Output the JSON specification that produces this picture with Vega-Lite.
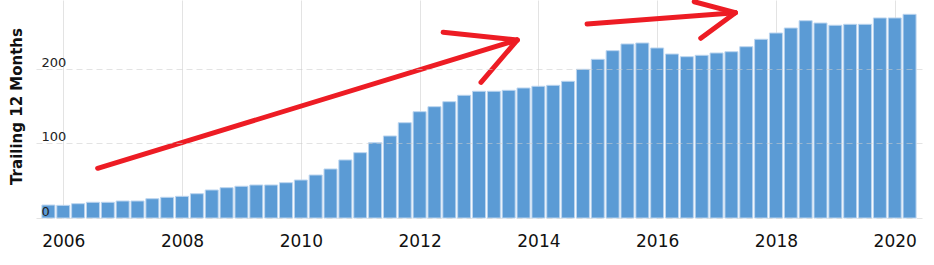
{
  "$schema": "https://vega.github.io/schema/vega-lite/v6.json",
  "width": 886,
  "height": 218,
  "autosize": "none",
  "padding": {"left": 36, "top": 0, "right": 12, "bottom": 47},
  "background": "white",
  "config": {"view": {"stroke": null}, "font": "DejaVu Sans"},
  "datasets": {
    "bars": [
      {"year": 2005.75, "value": 17.4}, {"year": 2006.0, "value": 17.0}, {"year": 2006.25, "value": 19.2}, {"year": 2006.5, "value": 21.1},
      {"year": 2006.75, "value": 21.1}, {"year": 2007.0, "value": 22.8}, {"year": 2007.25, "value": 22.8}, {"year": 2007.5, "value": 25.9},
      {"year": 2007.75, "value": 27.8}, {"year": 2008.0, "value": 29.1}, {"year": 2008.25, "value": 32.6}, {"year": 2008.5, "value": 37.6},
      {"year": 2008.75, "value": 40.7}, {"year": 2009.0, "value": 42.6}, {"year": 2009.25, "value": 44.3}, {"year": 2009.5, "value": 44.3},
      {"year": 2009.75, "value": 47.4}, {"year": 2010.0, "value": 51.0}, {"year": 2010.25, "value": 57.7}, {"year": 2010.5, "value": 65.8},
      {"year": 2010.75, "value": 77.9}, {"year": 2011.0, "value": 87.7}, {"year": 2011.25, "value": 101.1}, {"year": 2011.5, "value": 110.1},
      {"year": 2011.75, "value": 127.9}, {"year": 2012.0, "value": 142.7}, {"year": 2012.25, "value": 149.4}, {"year": 2012.5, "value": 156.1},
      {"year": 2012.75, "value": 164.7}, {"year": 2013.0, "value": 170.1}, {"year": 2013.25, "value": 170.1}, {"year": 2013.5, "value": 171.4},
      {"year": 2013.75, "value": 174.5}, {"year": 2014.0, "value": 176.8}, {"year": 2014.25, "value": 178.1}, {"year": 2014.5, "value": 183.5},
      {"year": 2014.75, "value": 199.6}, {"year": 2015.0, "value": 213.0}, {"year": 2015.25, "value": 224.6}, {"year": 2015.5, "value": 233.6},
      {"year": 2015.75, "value": 234.9}, {"year": 2016.0, "value": 228.2}, {"year": 2016.25, "value": 220.1}, {"year": 2016.5, "value": 216.5},
      {"year": 2016.75, "value": 218.4}, {"year": 2017.0, "value": 221.5}, {"year": 2017.25, "value": 223.2}, {"year": 2017.5, "value": 229.9},
      {"year": 2017.75, "value": 239.9}, {"year": 2018.0, "value": 248.3}, {"year": 2018.25, "value": 255.0}, {"year": 2018.5, "value": 264.8},
      {"year": 2018.75, "value": 261.7}, {"year": 2019.0, "value": 258.7}, {"year": 2019.25, "value": 260.0}, {"year": 2019.5, "value": 260.0},
      {"year": 2019.75, "value": 268.5}, {"year": 2020.0, "value": 268.5}, {"year": 2020.25, "value": 273.4}
    ],
    "arrows": [
      {"seg": "a1", "o": 0, "year": 2006.579, "value": 66.7}, {"seg": "a1", "o": 1, "year": 2013.644, "value": 238.9},
      {"seg": "a1u", "o": 0, "year": 2012.396, "value": 249.3}, {"seg": "a1u", "o": 1, "year": 2013.644, "value": 238.9},
      {"seg": "a1l", "o": 0, "year": 2013.034, "value": 182.1}, {"seg": "a1l", "o": 1, "year": 2013.644, "value": 238.9},
      {"seg": "a2", "o": 0, "year": 2014.82, "value": 260.4}, {"seg": "a2", "o": 1, "year": 2017.317, "value": 275.6},
      {"seg": "a2u", "o": 0, "year": 2016.624, "value": 290.3}, {"seg": "a2u", "o": 1, "year": 2017.317, "value": 275.6},
      {"seg": "a2l", "o": 0, "year": 2016.734, "value": 241.2}, {"seg": "a2l", "o": 1, "year": 2017.317, "value": 275.6}
    ]
  },
  "layer": [
    {
      "data": {"name": "bars"},
      "mark": {"type": "bar", "size": 13, "fill": "#5b9bd5", "stroke": "#bcd5ef", "strokeWidth": 1},
      "encoding": {
        "x": {
          "field": "year", "type": "quantitative",
          "scale": {"domain": [2005.625, 2020.375], "nice": false, "zero": false},
          "axis": {
            "title": null, "values": [2006, 2008, 2010, 2012, 2014, 2016, 2018, 2020], "format": "d",
            "grid": true, "gridColor": "#e3e3e3", "gridWidth": 1, "domain": false, "ticks": false, "tickSize": 0,
            "labelFont": "DejaVu Sans", "labelFontSize": 17, "labelColor": "#111111",
            "labelBaseline": "alphabetic", "labelPadding": 28, "labelFlush": false
          }
        },
        "y": {
          "field": "value", "type": "quantitative",
          "scale": {"domain": [0, 292.6], "nice": false},
          "axis": {
            "title": "Trailing 12 Months", "values": [0, 100, 200],
            "grid": true, "gridColor": "#cccccc", "gridOpacity": 0.55, "gridDash": [6, 4],
            "domain": false, "ticks": false, "tickSize": 0,
            "labelAlign": "left", "labelPadding": -5, "labelBaseline": "alphabetic", "labelOffset": -2.5,
            "labelFont": "DejaVu Sans", "labelFontSize": 13, "labelColor": "#222222",
            "titleFont": "DejaVu Sans", "titleFontSize": 15, "titleFontWeight": "bold", "titleColor": "#111111",
            "titleX": -20, "titleY": 106, "titleBaseline": "middle", "titleAngle": -90, "zindex": 1
          }
        }
      }
    },
    {
      "mark": {"type": "rule", "stroke": "#666666", "strokeWidth": 1.5, "strokeDash": [6, 4], "opacity": 0.8},
      "encoding": {"y": {"datum": 0}}
    },
    {
      "data": {"name": "arrows"},
      "mark": {"type": "line", "stroke": "#ed1c24", "strokeWidth": 5, "strokeCap": "round", "strokeJoin": "round", "clip": false},
      "encoding": {
        "x": {"field": "year", "type": "quantitative"},
        "y": {"field": "value", "type": "quantitative"},
        "detail": {"field": "seg"},
        "order": {"field": "o"}
      }
    }
  ]
}
